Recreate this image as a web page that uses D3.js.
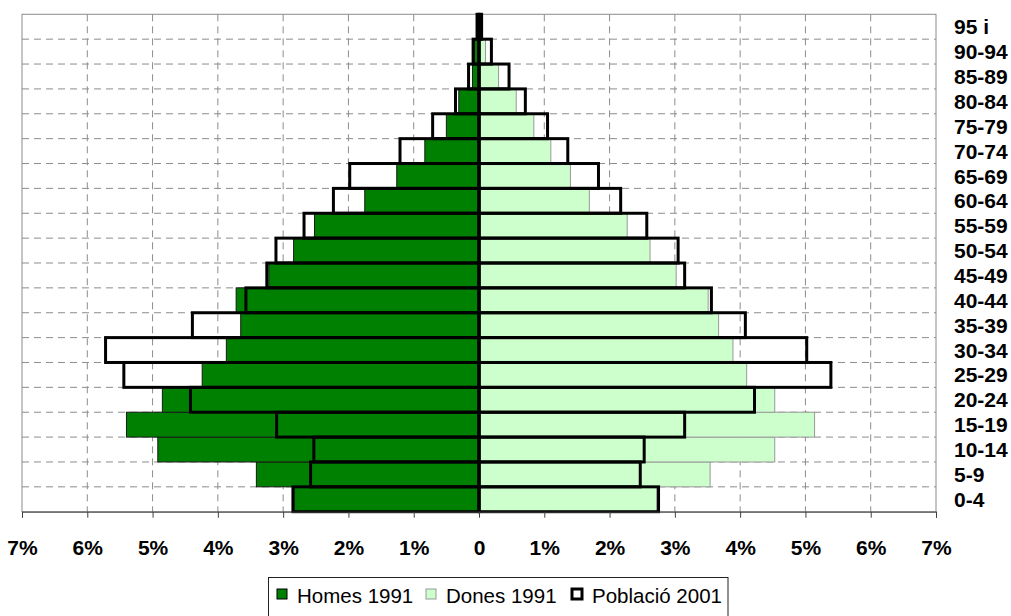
<!DOCTYPE html>
<html>
<head>
<meta charset="utf-8">
<script src="https://cdnjs.cloudflare.com/ajax/libs/d3/7.8.5/d3.min.js"></script>
<style>
    body { margin: 0; background: #fff; }
    svg { display: block; font-family: "Liberation Sans", Arial, sans-serif; }
</style>
</head>
<body>
<div id="chart"></div>
<script>
"use strict"

// age groups, youngest first
const ages = ["0-4", "5-9", "10-14", "15-19", "20-24", "25-29", "30-34", "35-39", "40-44", "45-49",
    "50-54", "55-59", "60-64", "65-69", "70-74", "75-79", "80-84", "85-89", "90-94", "95 i"];

// percentages
const homes1991 = [2.83, 3.41, 4.92, 5.40, 4.85, 4.24, 3.87, 3.65, 3.72, 3.22,
    2.84, 2.52, 1.75, 1.26, 0.83, 0.50, 0.31, 0.10, 0.07, 0.02];
const dones1991 = [2.72, 3.54, 4.53, 5.14, 4.53, 4.10, 3.89, 3.67, 3.51, 3.02,
    2.62, 2.27, 1.69, 1.40, 1.10, 0.84, 0.57, 0.30, 0.10, 0.03];
const homes2001 = [2.85, 2.58, 2.53, 3.10, 4.42, 5.44, 5.72, 4.39, 3.57, 3.25,
    3.11, 2.68, 2.23, 1.98, 1.21, 0.71, 0.36, 0.16, 0.09, 0.03];
const dones2001 = [2.75, 2.47, 2.53, 3.15, 4.22, 5.39, 5.02, 4.08, 3.56, 3.15,
    3.05, 2.57, 2.17, 1.83, 1.36, 1.05, 0.71, 0.46, 0.19, 0.04];

const xTicks = [-7, -6, -5, -4, -3, -2, -1, 0, 1, 2, 3, 4, 5, 6, 7];
const legendItems = ["Homes 1991", "Dones 1991", "Població 2001"];

let width = 1011, height = 616;
let plot = { left: 22, right: 936, top: 14.3, bottom: 511.7 };

let svg = d3.select("#chart").append("svg")
    .attr("width", width)
    .attr("height", height);

let x = d3.scaleLinear().domain([-7, 7]).range([plot.left, plot.right]);
let y = d3.scaleBand().domain(ages.slice().reverse()).range([plot.top, plot.bottom]).padding(0);

/* grid */
let grid = svg.append("g");
grid.selectAll(".vgrid")
    .data(xTicks.filter(d => d !== 0 && Math.abs(d) !== 7))
    .enter().append("line")
    .attr("x1", d => x(d)).attr("x2", d => x(d))
    .attr("y1", plot.top).attr("y2", plot.bottom)
    .attr("stroke", "#8c8c8c")
    .attr("stroke-dasharray", "7,5");
grid.selectAll(".hgrid")
    .data(ages.slice(0, ages.length - 1))
    .enter().append("line")
    .attr("x1", plot.left).attr("x2", plot.right)
    .attr("y1", d => y(d)).attr("y2", d => y(d))
    .attr("stroke", "#8c8c8c")
    .attr("stroke-dasharray", "7,5");

// plot frame
svg.append("rect")
    .attr("x", plot.left).attr("y", plot.top)
    .attr("width", plot.right - plot.left)
    .attr("height", plot.bottom - plot.top)
    .attr("fill", "none")
    .attr("stroke", "#8c8c8c");

/* 1991 bars */
let bars = svg.append("g");
bars.selectAll(".homes")
    .data(ages)
    .enter().append("rect")
    .attr("x", (d, i) => x(-homes1991[i]))
    .attr("y", d => y(d))
    .attr("width", (d, i) => x(0) - x(-homes1991[i]))
    .attr("height", y.bandwidth())
    .attr("fill", "#008000")
    .attr("stroke", "#1a1a1a")
    .attr("stroke-width", 1);

bars.selectAll(".dones")
    .data(ages)
    .enter().append("rect")
    .attr("x", x(0))
    .attr("y", d => y(d))
    .attr("width", (d, i) => x(dones1991[i]) - x(0))
    .attr("height", y.bandwidth())
    .attr("fill", "#ccffcc")
    .attr("stroke", "#999999")
    .attr("stroke-width", 1);

/* 2001 outlines */
let outl = svg.append("g");
outl.selectAll(".h2001")
    .data(ages)
    .enter().append("rect")
    .attr("x", (d, i) => x(-homes2001[i]))
    .attr("y", d => y(d))
    .attr("width", (d, i) => x(0) - x(-homes2001[i]))
    .attr("height", y.bandwidth())
    .attr("fill", "none")
    .attr("stroke", "#000")
    .attr("stroke-width", 3);
outl.selectAll(".d2001")
    .data(ages)
    .enter().append("rect")
    .attr("x", x(0))
    .attr("y", d => y(d))
    .attr("width", (d, i) => x(dones2001[i]) - x(0))
    .attr("height", y.bandwidth())
    .attr("fill", "none")
    .attr("stroke", "#000")
    .attr("stroke-width", 3);

/* center axis with small ticks */
svg.append("line")
    .attr("x1", x(0)).attr("x2", x(0))
    .attr("y1", plot.top - 1).attr("y2", plot.bottom)
    .attr("stroke", "#000")
    .attr("stroke-width", 3);
svg.selectAll(".ctick")
    .data(ages.slice(0, ages.length - 1))
    .enter().append("line")
    .attr("x1", x(0)).attr("x2", x(0) + 4)
    .attr("y1", d => y(d)).attr("y2", d => y(d))
    .attr("stroke", "#000");

/* bottom axis */
let xAxis = d3.axisBottom(x)
    .tickValues(xTicks)
    .tickSize(6)
    .tickFormat(d => d === 0 ? "0" : Math.abs(d) + "%");

let gx = svg.append("g")
    .attr("transform", "translate(0," + plot.bottom + ")")
    .call(xAxis);
gx.select(".domain").attr("stroke", "#404040");
gx.selectAll(".tick line").attr("stroke", "#404040");
gx.selectAll(".tick text")
    .attr("y", 43)
    .attr("dy", 0)
    .style("font-family", "'Liberation Sans', Arial, sans-serif")
    .style("font-size", "21px")
    .style("font-weight", "bold")
    .attr("fill", "#000");

/* age labels on the right */
svg.append("g").selectAll("text")
    .data(ages)
    .enter().append("text")
    .attr("x", 954)
    .attr("y", d => y(d) + y.bandwidth() / 2)
    .attr("dy", "0.36em")
    .style("font-size", "21px")
    .style("font-weight", "bold")
    .text(d => d);

/* legend */
let legend = svg.append("g");
legend.append("rect")
    .attr("x", 268.5).attr("y", 577.5)
    .attr("width", 459.5).attr("height", 60)
    .attr("fill", "#fff")
    .attr("stroke", "#222");

let legendX = [277, 426, 572];
let legendStyle = [
    { fill: "#008000", stroke: "#000", sw: 1 },
    { fill: "#ccffcc", stroke: "#999", sw: 1 },
    { fill: "#fff", stroke: "#000", sw: 3 }
];
legendItems.forEach((label, i) => {
    legend.append("rect")
        .attr("x", legendX[i]).attr("y", 589)
        .attr("width", 10).attr("height", 10)
        .attr("fill", legendStyle[i].fill)
        .attr("stroke", legendStyle[i].stroke)
        .attr("stroke-width", legendStyle[i].sw);
    legend.append("text")
        .attr("x", legendX[i] + 20)
        .attr("y", 603)
        .style("font-size", "20.5px")
        .text(label);
});
</script>
</body>
</html>
